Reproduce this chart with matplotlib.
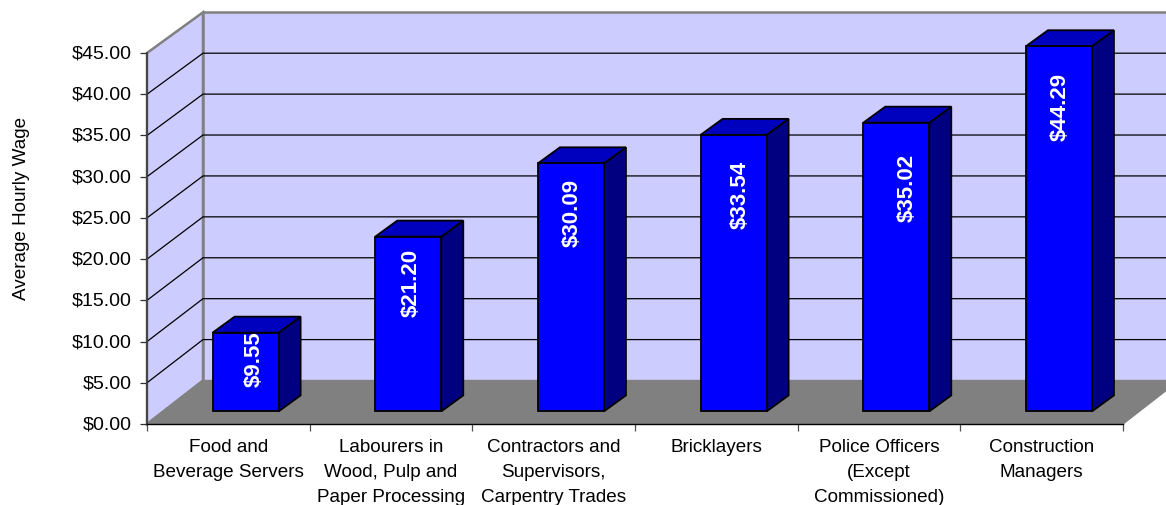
#!/usr/bin/env python3
import matplotlib
matplotlib.use('Agg')
import matplotlib.pyplot as plt
from matplotlib.patches import Polygon
from matplotlib.transforms import ScaledTranslation

plt.rcParams['font.family'] = ['Liberation Sans', 'DejaVu Sans']

categories = ['Food and\nBeverage Servers',
              'Labourers in\nWood, Pulp and\nPaper Processing',
              'Contractors and\nSupervisors,\nCarpentry Trades',
              'Bricklayers',
              'Police Officers\n(Except\nCommissioned)',
              'Construction\nManagers']
wages = [9.55, 21.20, 30.09, 33.54, 35.02, 44.29]
y_ticks = [0, 5, 10, 15, 20, 25, 30, 35, 40, 45]

# hand placed data labels: pixels right of bar centre, pixels below bar top
label_dx = [9, 3, 1, 7, 11, 1]
label_dy = [26, 46, 50, 60, 65, 61]

W, H = 1166, 505
fig = plt.figure(figsize=(W / 100, H / 100), dpi=100)
ax = fig.add_axes([147 / W, (H - 424) / H, 976 / W, 371 / H])
ax.set_xlim(0, 6)
ax.set_ylim(0, 45)
ax.patch.set_visible(False)

# pixel sizes in data units
px = 6 / 976
py = 45 / 371
depth_x = 56 * px


def back(v):
    # back wall is a little shorter than the front axis
    return 43.5 * py + v * 0.9925


def poly(points, face, edge='none', lw=0.0, z=1):
    ax.add_patch(Polygon(points, closed=True, facecolor=face, edgecolor=edge,
                         linewidth=lw, zorder=z, clip_on=False, joinstyle='miter'))


# ---- walls and floor ----
poly([(0, 0), (depth_x, back(0)), (depth_x, back(45)), (0, 45)],
     '#CCCCFF', '#808080', 1.8, 1)
poly([(depth_x, back(0)), (6 + depth_x, back(0)),
      (6 + depth_x, back(45)), (depth_x, back(45))],
     '#CCCCFF', '#808080', 1.8, 1)
poly([(0, 0), (6, 0), (6 + depth_x, back(0)), (depth_x, back(0))],
     '#808080', '#808080', 1.0, 2)

# ---- gridlines ----
for v in y_ticks[1:-1]:
    ax.plot([0, depth_x, 6 + depth_x], [v, back(v), back(v)],
            color='black', linewidth=0.9, zorder=1.5, clip_on=False)

# ---- bars ----
bar_w = 66 * px
bar_off = 65.6 * px
bar_base = 12.6 * py
side_x = 22 * px
side_y = 16 * py
for i, (wage, dx, dy) in enumerate(zip(wages, label_dx, label_dy)):
    x0 = i + bar_off
    x1 = x0 + bar_w
    y0 = bar_base
    y1 = y0 + wage
    poly([(x1, y0), (x1 + side_x, y0 + side_y), (x1 + side_x, y1 + side_y), (x1, y1)],
         '#000080', 'black', 1.3, 3)
    poly([(x0, y1), (x1, y1), (x1 + side_x, y1 + side_y), (x0 + side_x, y1 + side_y)],
         '#0000BF', 'black', 1.3, 3)
    poly([(x0, y0), (x1, y0), (x1, y1), (x0, y1)], '#0000FF', 'black', 1.3, 4)
    ax.text((x0 + x1) / 2 + dx * px, y1 - dy * py, f'${wage:.2f}', color='white',
            fontsize=16, fontweight='bold', rotation=90, ha='center', va='center',
            zorder=5)

# ---- axes ----
for side in ['top', 'right']:
    ax.spines[side].set_visible(False)
ax.spines['left'].set_color('#404040')
ax.spines['left'].set_linewidth(1.3)
ax.spines['bottom'].set_color('black')
ax.spines['bottom'].set_linewidth(1.0)
for spine in ax.spines.values():
    spine.set_zorder(6)

ax.set_yticks(y_ticks)
ax.set_yticklabels([f'${v:.2f}' for v in y_ticks], fontsize=14, va='center_baseline')
ax.tick_params(axis='y', length=5, width=0.9, color='#303030', pad=6, labelcolor='black')
nudge = ScaledTranslation(0, 1 / 100, fig.dpi_scale_trans)
for label in ax.get_yticklabels():
    label.set_transform(label.get_transform() + nudge)

ax.set_xticks(range(7))
ax.set_xticklabels([])
ax.set_xticks([i + 0.5 for i in range(6)], minor=True)
ax.set_xticklabels(categories, minor=True, fontsize=13.6, linespacing=1.62, va='top')
ax.tick_params(axis='x', which='major', length=5, width=0.9, color='#505050')
ax.tick_params(axis='x', which='minor', length=0, pad=11)

fig.text(21 / W, (H - 208) / H, 'Average Hourly Wage', rotation=90, ha='center',
         va='center', fontsize=13.6)

fig.savefig('out.png', dpi=100)
